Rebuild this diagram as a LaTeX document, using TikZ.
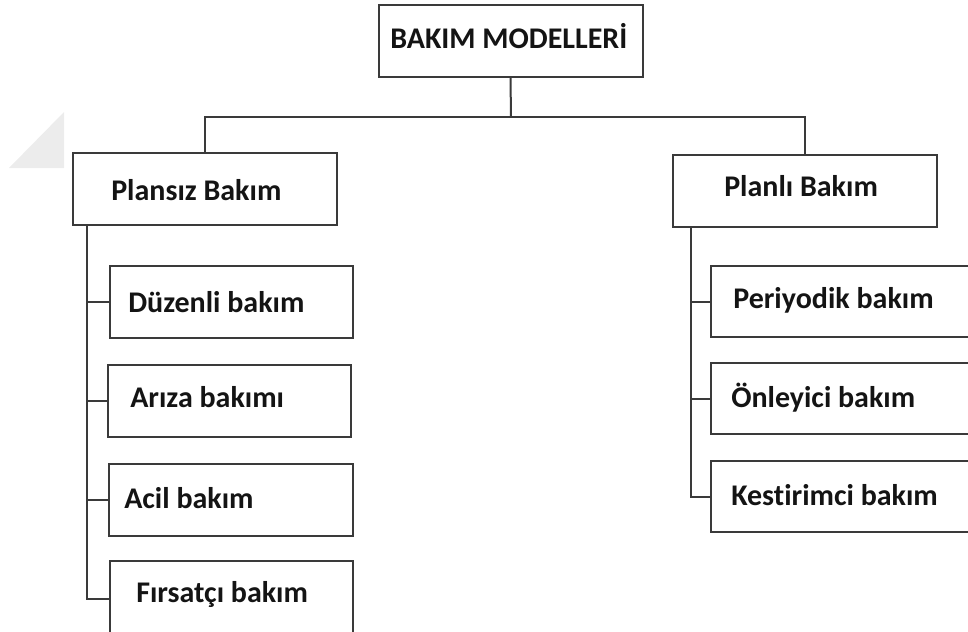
\documentclass[tikz,border=0pt]{standalone}
\usepackage{fontspec}
\setmainfont{Carlito}[Ligatures=NoCommon]
\usepackage{tikz}

\begin{document}
\begin{tikzpicture}[x=0.75pt,y=0.75pt,yscale=-1,xscale=1,
  box/.style={draw={rgb,255:red,58;green,58;blue,58},line width=1.5pt,inner sep=0pt,fill=white},
  mainbox/.style={box,minimum width=198pt,minimum height=54pt},
  leftbox/.style={box,minimum width=182.5pt,minimum height=54pt},
  rightbox/.style={box,minimum width=202pt,minimum height=53.5pt},
  lbl/.style={anchor=base west,inner sep=0pt,font=\fontsize{22.5}{27}\selectfont\bfseries,text={rgb,255:red,20;green,20;blue,20}},
  wire/.style={draw={rgb,255:red,58;green,58;blue,58},line width=1.5pt}]
\useasboundingbox (0,0) rectangle (968,632);
\clip (0,0) rectangle (968,632);

%Shape: Right Triangle
\fill [color={rgb, 255:red, 236; green, 236; blue, 236 }] (9,168) -- (64,168) -- (64,112) -- cycle ;

%Shape: Rectangle
\node [mainbox] (top) at (510.5,41) {};
\node [mainbox] (plansiz) at (204.5,188.5) {};
\node [mainbox] (planli) at (805,190.5) {};
%Shape: Rectangle
\node [leftbox] (duzenli) at (231.5,301.5) {};
\node [leftbox] (ariza) at (229.5,401) {};
\node [leftbox] (acil) at (231,500) {};
\node [leftbox,minimum height=56pt] (firsat) at (231.5,598.5) {};
%Shape: Rectangle
\node [rightbox] (periyodik) at (845.5,301.5) {};
\node [rightbox] (onleyici) at (845.5,398.5) {};
\node [rightbox] (kestirim) at (845.5,496.5) {};

%Straight Lines
\coordinate (bus) at (511,117);
\draw [wire] (top.south) -- (bus) ;
\draw [wire] (plansiz.north) |- (bus) -| (planli.north) ;
%Straight Lines
\coordinate (ltrunk) at ([xshift=11.25pt]plansiz.south west);
\draw [wire] (ltrunk) |- (firsat.west) ;
\foreach \n in {duzenli,ariza,acil}
  \draw [wire] (ltrunk |- \n.west) -- (\n.west) ;
%Straight Lines
\coordinate (rtrunk) at ([xshift=14.25pt]planli.south west);
\draw [wire] (rtrunk) |- (kestirim.west) ;
\foreach \n in {periyodik,onleyici}
  \draw [wire] (rtrunk |- \n.west) -- (\n.west) ;

% Text Node
\node [lbl] (ttop) at (390,48) {BAKIM MODELLERİ};
% Text Node
\node [lbl] (tplansiz) at (111,200) {Plansız Bakım};
% Text Node
\node [lbl] (tplanli) at (724,196) {Planlı Bakım};
% Text Node
\node [lbl] (tduzenli) at (128,312) {Düzenli bakım};
% Text Node
\node [lbl] (tariza) at (130,407) {Arıza bakımı};
% Text Node
\node [lbl] (tacil) at (124,508) {Acil bakım};
% Text Node
\node [lbl] (tfirsat) at (136,602) {Fırsatçı bakım};
% Text Node
\node [lbl] (tperiyodik) at (733,308) {Periyodik bakım};
% Text Node
\node [lbl] (tonleyici) at (731,407) {Önleyici bakım};
% Text Node
\node [lbl] (tkestirim) at (731,505) {Kestirimci bakım};

\end{tikzpicture}
\end{document}
